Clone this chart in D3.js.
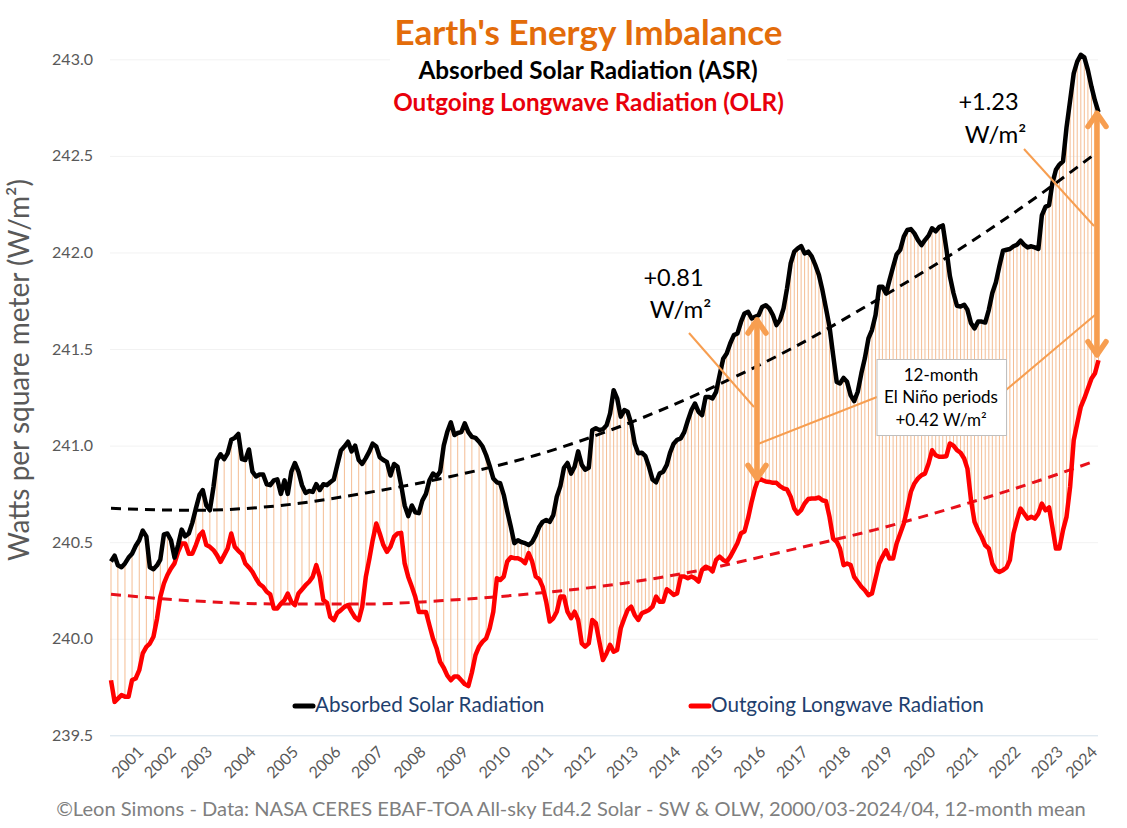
<!DOCTYPE html>
<html>
<head>
<meta charset="utf-8">
<script src="https://cdn.jsdelivr.net/npm/d3@7"></script>
<style>
  html, body { margin: 0; padding: 0; background: #fff; }
  svg { display: block; font-family: Lato, "Open Sans", sans-serif; }
</style>
</head>
<body>
<svg id="chart" width="1127" height="828"></svg>
<script>
// monthly values, Jan 2001 to Apr 2024
const asr = [
  240.40,240.43,240.38,240.37,240.39,240.42,240.44,240.48,240.51,240.56,240.53,240.37,240.36,240.38,240.41,240.54,
  240.545,240.51,240.42,240.485,240.565,240.53,240.545,240.60,240.675,240.745,240.77,240.69,240.665,240.785,240.925,240.955,
  240.93,240.96,241.03,241.04,241.06,240.93,240.925,240.98,240.865,240.84,240.85,240.85,240.80,240.795,240.82,240.825,
  240.75,240.82,240.75,240.865,240.91,240.865,240.795,240.755,240.765,240.76,240.80,240.77,240.80,240.795,240.81,240.825,
  240.90,240.975,240.995,241.02,240.97,241.0,240.925,240.905,240.935,240.97,241.01,240.995,240.94,240.925,240.915,240.845,
  240.905,240.89,240.795,240.69,240.635,240.69,240.655,240.65,240.715,240.75,240.82,240.855,240.84,240.865,241.0,241.07,
  241.12,241.055,241.065,241.07,241.115,241.07,241.045,241.04,241.02,240.995,240.95,240.895,240.83,240.81,240.805,240.745,
  240.66,240.58,240.495,240.51,240.50,240.495,240.485,240.50,240.535,240.58,240.605,240.615,240.605,240.64,240.735,240.79,
  240.885,240.91,240.855,240.89,240.97,240.90,240.875,240.885,241.08,241.09,241.08,241.085,241.105,241.165,241.287,241.245,
  241.15,241.184,241.175,241.115,241.01,240.96,240.963,240.945,240.89,240.825,240.81,240.855,240.865,240.90,240.963,241.01,
  241.03,241.037,241.07,241.13,241.184,241.218,241.175,241.157,241.252,241.252,241.244,241.278,241.365,241.45,241.477,241.53,
  241.572,241.58,241.64,241.684,241.693,241.658,241.667,241.675,241.718,241.727,241.71,241.676,241.624,241.65,241.71,241.814,
  241.943,242.004,242.02,242.033,241.995,242.004,241.98,241.935,241.883,241.805,241.71,241.616,241.47,241.33,241.322,241.35,
  241.33,241.26,241.23,241.279,241.374,241.452,241.555,241.598,241.676,241.823,241.823,241.788,241.857,241.926,241.99,242.013,
  242.082,242.116,242.121,242.099,242.064,242.038,242.064,242.087,242.125,242.109,242.131,242.14,242.018,241.878,241.79,241.724,
  241.72,241.729,241.703,241.633,241.607,241.642,241.642,241.637,241.703,241.79,241.846,241.93,242.009,242.014,242.018,242.032,
  242.04,242.061,242.04,242.026,242.032,242.026,242.018,242.192,242.236,242.245,242.358,242.428,242.455,242.472,242.647,242.787,
  242.927,242.988,243.023,243.01,242.944,242.857,242.787,242.726
];
const olr = [
  239.785,239.673,239.69,239.708,239.70,239.70,239.786,239.794,239.837,239.924,239.958,239.975,240.01,240.105,240.217,240.286,
  240.33,240.364,240.39,240.45,240.493,240.493,240.44,240.44,240.485,240.536,240.554,240.485,240.476,240.459,240.433,240.398,
  240.433,240.467,240.545,240.476,240.455,240.438,240.39,240.369,240.346,240.312,240.283,240.269,240.243,240.23,240.157,240.157,
  240.182,240.2,240.234,240.191,240.174,240.234,240.255,240.277,240.295,240.32,240.381,240.32,240.2,240.186,240.113,240.096,
  240.134,240.148,240.165,240.174,240.139,240.11,240.096,240.165,240.32,240.415,240.51,240.597,240.545,240.485,240.45,240.476,
  240.528,240.545,240.548,240.39,240.32,240.269,240.217,240.139,240.139,240.139,240.07,240.0,239.95,239.88,239.85,239.81,
  239.785,239.805,239.805,239.785,239.765,239.755,239.825,239.915,239.96,239.985,240.002,240.054,240.14,240.313,240.304,240.322,
  240.4,240.422,240.417,240.417,240.408,240.391,240.443,240.40,240.322,240.308,240.27,240.192,240.089,240.106,240.14,240.218,
  240.218,240.14,240.106,240.14,240.097,239.976,239.959,239.976,240.097,240.08,239.985,239.89,239.925,239.968,239.933,239.942,
  240.054,240.106,240.149,240.166,240.123,240.097,240.132,240.14,240.149,240.166,240.218,240.192,240.192,240.256,240.244,240.227,
  240.235,240.322,240.322,240.313,240.322,240.313,240.296,240.356,240.373,240.365,240.348,240.408,240.425,240.408,240.399,240.425,
  240.46,240.494,240.546,240.555,240.624,240.71,240.779,240.831,240.822,240.814,240.812,240.807,240.807,240.79,240.778,240.773,
  240.735,240.674,240.648,240.666,240.70,240.723,240.726,240.726,240.731,240.717,240.712,240.631,240.519,240.502,240.467,240.381,
  240.39,240.381,240.32,240.295,240.269,240.251,240.225,240.234,240.312,240.39,240.424,240.458,240.415,240.415,240.493,240.545,
  240.597,240.674,240.761,240.804,240.83,240.847,240.855,240.907,240.976,240.95,240.942,240.942,240.945,241.011,241.0,240.976,
  240.963,240.933,240.881,240.717,240.605,240.562,240.528,240.484,240.467,240.389,240.355,240.346,240.355,240.369,240.407,240.545,
  240.614,240.674,240.648,240.622,240.631,240.622,240.648,240.70,240.665,240.68,240.58,240.467,240.467,240.562,240.631,240.787,
  241.028,241.114,241.201,241.244,241.296,241.347,241.373,241.442
];
// trend lines, read every two years (index is the month)
const trendMonths = [0, 24, 48, 72, 96, 120, 144, 168, 192, 216, 240, 264, 278];
const asrTrend = [240.675, 240.665, 240.69, 240.755, 240.84, 240.95, 241.10, 241.285, 241.50, 241.75, 242.02, 242.32, 242.51];
const olrTrend = [240.23, 240.195, 240.18, 240.18, 240.20, 240.235, 240.285, 240.36, 240.46, 240.565, 240.69, 240.83, 240.92];
const yTicks = [239.5, 240, 240.5, 241, 241.5, 242, 242.5, 243];
const years = d3.range(2001, 2025);

const width = 1127;
const gridColor = '#f2f2f2';
const axisText = '#595959';
const arrowColor = '#f79e50';
const dropColor = '#f4bd94';

const svg = d3.select('#chart');

const months = asr.map((d, i) => new Date(2001, i, 1));
const xScale = d3.scaleTime().domain([months[0], months[months.length - 1]]).range([111, 1098.5]);
const yScale = d3.scaleLinear().domain([239.5, 243]).range([735.3, 59.3]);

// grid
const yAxis = d3.axisLeft(yScale).tickValues(yTicks).tickFormat(d3.format('.1f')).tickSize(-988);
const yG = svg.append('g').attr('transform', 'translate(110,0)').call(yAxis);
yG.select('.domain').remove();
yG.selectAll('line').attr('stroke', (d) => (d === 239.5 ? '#d3e0ea' : gridColor));
yG.selectAll('text')
  .attr('x', -17)
  .attr('fill', axisText)
  .style('font-size', '16px')
  .style('font-family', 'Lato');

// x labels, the outer few sit closer together than the months
const labelNudge = { 2001: 15, 2002: 5, 2003: -1, 2024: -8 };
const xAxis = d3.axisBottom(xScale).tickValues(years.map((y) => new Date(y, 0, 1))).tickFormat(d3.timeFormat('%Y')).tickSize(0);
const xG = svg.append('g').attr('transform', 'translate(0,735)').call(xAxis);
xG.select('.domain').remove();
xG.selectAll('text')
  .attr('fill', axisText)
  .style('font-size', '16px')
  .style('font-family', 'Lato')
  .style('text-anchor', 'end')
  .attr('y', 0)
  .attr('dy', 0)
  .attr('transform', (d) => {
    const shift = 18 + (labelNudge[d.getFullYear()] || 0);
    return `translate(${shift},18) rotate(-45)`;
  });

// drop lines between the two series, thinned out in the first decade
svg.append('g')
  .selectAll('line')
  .data(months.map((d, i) => i).filter((i) => i >= 108 || i % 2 === 0))
  .enter()
  .append('line')
  .attr('x1', (i) => xScale(months[i]))
  .attr('x2', (i) => xScale(months[i]))
  .attr('y1', (i) => yScale(asr[i]))
  .attr('y2', (i) => yScale(olr[i]))
  .attr('stroke', dropColor)
  .attr('stroke-width', 1);

const line = d3.line().x((d, i) => xScale(months[i])).y((d) => yScale(d));
const trendLine = d3.line().x((d, i) => xScale(months[trendMonths[i]])).y((d) => yScale(d)).curve(d3.curveMonotoneX);

svg.append('path').attr('d', trendLine(asrTrend)).attr('fill', 'none').attr('stroke', '#000').attr('stroke-width', 3).attr('stroke-dasharray', '10 7');
svg.append('path').attr('d', trendLine(olrTrend)).attr('fill', 'none').attr('stroke', '#e8101a').attr('stroke-width', 3).attr('stroke-dasharray', '10 7');
svg.append('path').attr('d', line(olr)).attr('fill', 'none').attr('stroke', '#f00').attr('stroke-width', 4.5).attr('stroke-linejoin', 'round');
svg.append('path').attr('d', line(asr)).attr('fill', 'none').attr('stroke', '#000').attr('stroke-width', 4.5).attr('stroke-linejoin', 'round');

// leader lines
const leaders = [
  [[689, 333], [754, 407]],
  [[1024, 149], [1094, 226]],
  [[877, 397], [758, 444]],
  [[1006, 390], [1095, 315]],
];
leaders.forEach((l) => {
  svg.append('line')
    .attr('x1', l[0][0]).attr('y1', l[0][1])
    .attr('x2', l[1][0]).attr('y2', l[1][1])
    .attr('stroke', arrowColor).attr('stroke-width', 2);
});

// double headed arrows
const drawArrow = (x, top, bottom) => {
  const g = svg.append('g').attr('fill', 'none').attr('stroke', arrowColor).attr('stroke-width', 5.5).attr('stroke-linecap', 'round').attr('stroke-linejoin', 'round');
  g.append('line').attr('x1', x).attr('x2', x).attr('y1', yScale(top) + 2).attr('y2', yScale(bottom) - 2);
  g.append('path').attr('d', `M${x - 9},${yScale(top) + 15} L${x},${yScale(top) + 2} L${x + 9},${yScale(top) + 15}`);
  g.append('path').attr('d', `M${x - 9},${yScale(bottom) - 15} L${x},${yScale(bottom) - 2} L${x + 9},${yScale(bottom) - 15}`);
};
drawArrow(757, 241.66, 240.82);
drawArrow(1097, 242.73, 241.46);

// white plate behind the heading
svg.append('rect').attr('x', 390).attr('y', 10).attr('width', 397).attr('height', 108).attr('fill', '#fff');

const label = (txt, x, y, size, color, weight, anchor) =>
  svg.append('text')
    .attr('x', x).attr('y', y)
    .attr('text-anchor', anchor || 'middle')
    .attr('fill', color)
    .style('font-size', size + 'px')
    .style('font-weight', weight || 400)
    .text(txt);

label("Earth's Energy Imbalance", 588.5, 45, 35, '#e36c0a', 700);
label('Absorbed Solar Radiation (ASR)', 588, 79, 24.3, '#000', 700);
label('Outgoing Longwave Radiation (OLR)', 588.5, 111, 24.2, '#e8000b', 700);

label('+0.81', 673.5, 286, 23.5, '#000');
label('W/m²', 680.5, 318, 24, '#000');
label('+1.23', 988.5, 110, 23.5, '#000');
label('W/m²', 995.5, 143, 24, '#000');

// el nino box
svg.append('rect').attr('x', 877).attr('y', 359.5).attr('width', 129.5).attr('height', 76).attr('fill', '#fff').attr('stroke', '#bfbfbf').attr('stroke-width', 1);
label('12-month', 941, 381, 17, '#000');
label('El Niño periods', 941, 403, 17, '#000');
label('+0.42 W/m²', 941, 426, 17, '#000');

// legend
svg.append('line').attr('x1', 295).attr('x2', 313).attr('y1', 706).attr('y2', 706).attr('stroke', '#000').attr('stroke-width', 5).attr('stroke-linecap', 'round');
svg.append('line').attr('x1', 691).attr('x2', 709).attr('y1', 706).attr('y2', 706).attr('stroke', '#f00').attr('stroke-width', 5).attr('stroke-linecap', 'round');
label('Absorbed Solar Radiation', 315, 712, 20.7, '#1f3f6e', 400, 'start');
label('Outgoing Longwave Radiation', 711, 712, 20.7, '#1f3f6e', 400, 'start');

// y title and source
svg.append('text')
  .attr('transform', 'translate(29,370) rotate(-90)')
  .attr('text-anchor', 'middle')
  .attr('fill', axisText)
  .style('font-size', '28px')
  .text('Watts per square meter (W/m²)');
label('©Leon Simons - Data: NASA CERES EBAF-TOA All-sky Ed4.2 Solar - SW & OLW, 2000/03-2024/04, 12-month mean', 571, 816, 20.1, '#7f7f7f');
</script>
</body>
</html>
